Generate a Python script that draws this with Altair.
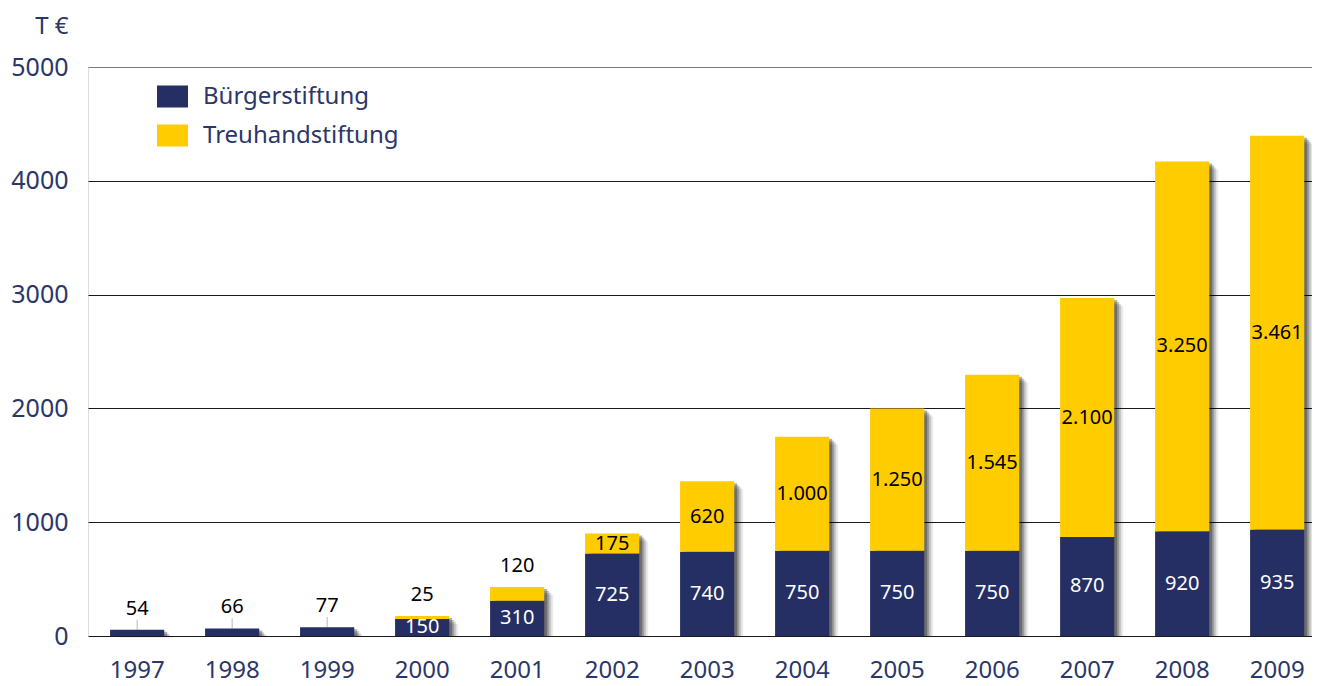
import altair as alt
import pandas as pd

years = ["1997", "1998", "1999", "2000", "2001", "2002", "2003",
         "2004", "2005", "2006", "2007", "2008", "2009"]
buerger = [54, 66, 77, 150, 310, 725, 740, 750, 750, 750, 870, 920, 935]
treuhand = [0, 0, 0, 25, 120, 175, 620, 1000, 1250, 1545, 2100, 3250, 3461]
series = ["Bürgerstiftung", "Treuhandstiftung"]
y_ticks = [0, 1000, 2000, 3000, 4000, 5000]

NAVY = "#252f63"
YELLOW = "#ffcc00"
TXT = "#2b3669"
FONT = "Noto Sans"


def de_fmt(v):
    return f"{v:,}".replace(",", ".")


rows = []
for yr, b, t in zip(years, buerger, treuhand):
    total = b + t
    rows.append(dict(year=yr, series=series[0], value=b, start=0, end=b,
                     total=total, label=de_fmt(b), inside=b >= 140,
                     mid=b / 2, lead=(t == 0 and b < 140)))
    if t > 0:
        rows.append(dict(year=yr, series=series[1], value=t, start=b, end=total,
                         total=total, label=de_fmt(t), inside=t >= 140,
                         mid=b + t / 2, lead=False))
df = pd.DataFrame(rows)
tot = pd.DataFrame({"year": years, "total": [b + t for b, t in zip(buerger, treuhand)]})

x = alt.X("year:N", sort=years,
          scale=alt.Scale(paddingInner=0.43, paddingOuter=0.157, align=0.74),
          axis=alt.Axis(title=None, labelAngle=0, labelFontSize=24, labelColor=TXT,
                        labelFont=FONT, labelPadding=34, ticks=False, tickSize=0,
                        domain=False, labelBaseline="middle"))
yscale = alt.Scale(domain=[0, 5000], nice=False)
yaxis = alt.Axis(title="T €", titleAngle=0, titleX=-20, titleY=-41, titleAlign="right",
                 titleBaseline="middle", titleFontSize=24, titleFont=FONT,
                 titleFontWeight="normal", titleColor=TXT, titleLimit=0,
                 values=y_ticks, format="d", labelFontSize=25, labelFont=FONT,
                 labelColor=TXT, labelPadding=20, ticks=False, domain=False,
                 grid=True, gridWidth=1.2,
                 gridColor={"condition": {"test": "datum.value == 5000", "value": "#7a7a7a"},
                            "value": "#1a1a1a"})

shadows = []
for dx, dy, op in [(9, 8, 0.08), (7, 6, 0.14), (5, 4, 0.22), (3, 2, 0.3)]:
    shadows.append(
        alt.Chart(tot).mark_bar(color="#000000", opacity=op, xOffset=dx, yOffset=dy)
        .encode(x=x, y=alt.Y("total:Q", scale=yscale, axis=yaxis), y2=alt.datum(0))
    )

bars = alt.Chart(df).mark_bar().encode(
    x=x,
    y=alt.Y("start:Q", scale=yscale, axis=yaxis),
    y2="end:Q",
    color=alt.Color("series:N", scale=alt.Scale(domain=series, range=[NAVY, YELLOW]),
                    legend=alt.Legend(title=None, orient="none", legendX=69, legendY=14,
                                      labelFontSize=24, labelFont=FONT, labelColor=TXT,
                                      labelLimit=0,
                                      symbolType="M-1,-0.71H1V0.71H-1Z", symbolSize=961,
                                      symbolStrokeWidth=0, labelOffset=15, rowPadding=11,
                                      padding=0, symbolOpacity=1)),
)

inside = alt.Chart(df).transform_filter("datum.inside").mark_text(
    fontSize=20, font=FONT, baseline="middle").encode(
    x=x, y=alt.Y("mid:Q", scale=yscale), text="label:N",
    color=alt.condition("datum.series == 'Bürgerstiftung'", alt.value("#ffffff"),
                        alt.value("#000000")))

above = alt.Chart(df).transform_filter("!datum.inside").mark_text(
    fontSize=20, font=FONT, baseline="middle", dy=-21, color="#000000").encode(
    x=x, y=alt.Y("total:Q", scale=yscale), text="label:N")

lead = alt.Chart(df).transform_filter("datum.lead").transform_calculate(
    top="datum.total + 90").mark_rule(color="#b8b8c8", strokeWidth=1).encode(
    x=x, y=alt.Y("total:Q", scale=yscale), y2="top:Q")

chart = alt.layer(*shadows, lead, bars, inside, above).properties(
    width=1224, height=569,
    padding={"left": 80, "top": 59, "right": 0, "bottom": 50},
    autosize=alt.AutoSizeParams(type="none"),
).configure_view(stroke=None).configure(background="#ffffff")

chart.save("out.html", embed_options={"renderer": "svg", "actions": False})
